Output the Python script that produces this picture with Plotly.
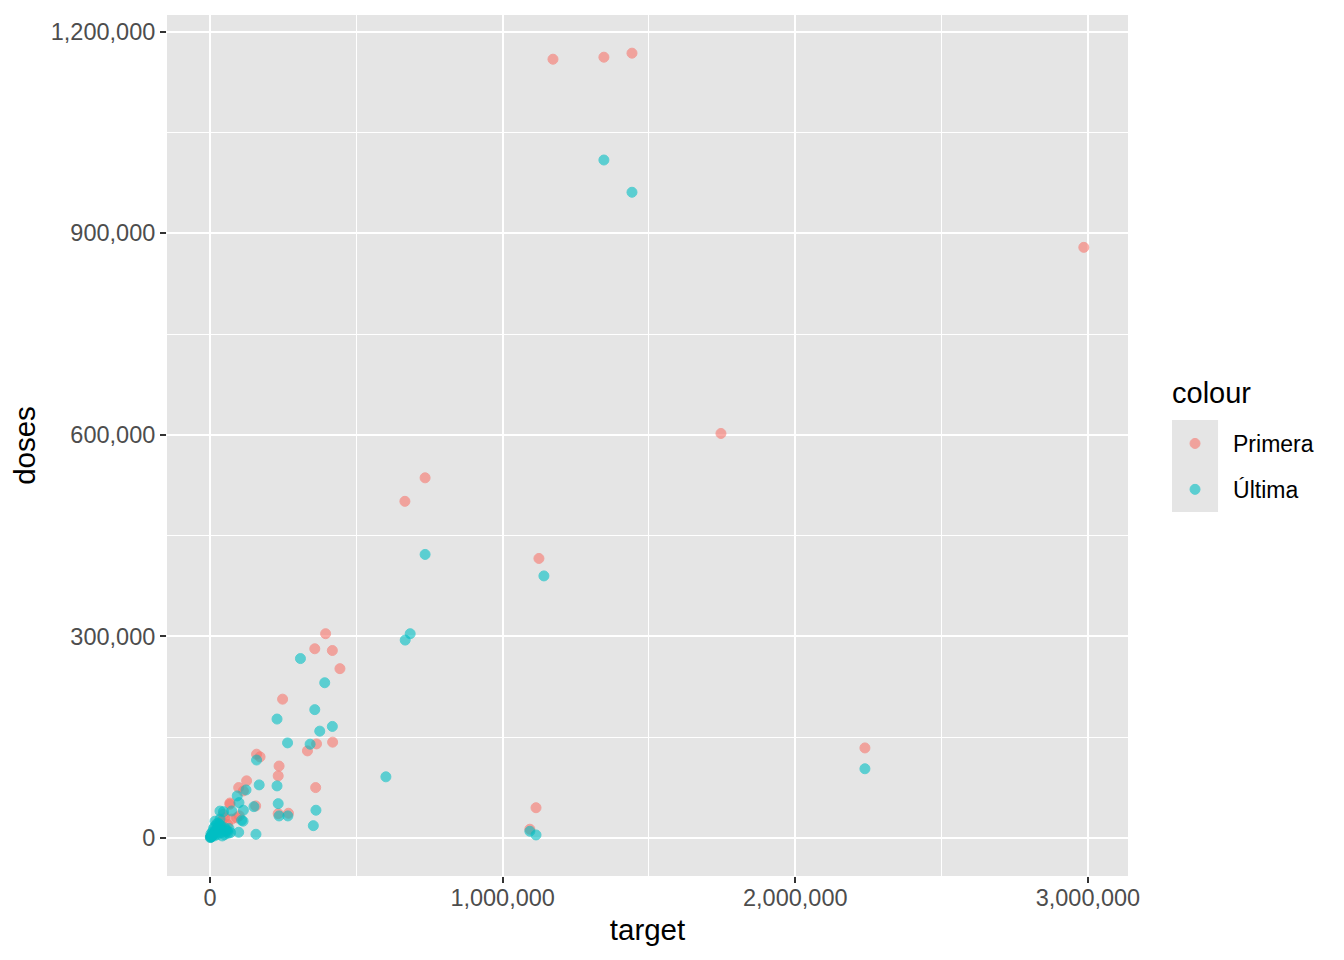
import plotly.graph_objects as go

# Primera dose points
primera_target = [1172000, 1346000, 1442000, 2986000, 1746000, 735000, 666000, 1124000,
                  2238000, 1114000, 1093000, 395000, 358000, 418000, 444000, 248000,
                  364000, 419000, 333000, 159000, 171000, 236000, 233000, 125000,
                  361000, 98000, 114000, 68000, 156000, 233000, 268000, 91000,
                  68000, 74000, 100000, 40000, 30000, 20000, 10000, 5000, 2000,
                  50000, 60000, 45000, 55000]
primera_doses = [1159000, 1162000, 1168000, 879000, 602000, 536000, 501000, 416000,
                 134000, 45000, 13000, 304000, 281600, 279000, 252000, 206600,
                 140000, 142600, 129600, 124700, 120700, 107000, 92400, 85000,
                 75000, 75000, 70000, 50200, 47700, 36200, 36800, 30000,
                 52000, 28000, 33000, 25000, 18000, 12000, 6000, 3000, 1500,
                 30000, 20000, 35000, 10000]

# Ultima dose points
ultima_target = [1346000, 1442000, 735000, 1141000, 2238000, 601000, 1093000, 1114000,
                 684000, 667000, 309000, 392000, 358000, 229000, 418000, 375000,
                 265000, 342000, 159000, 168000, 229000, 123000, 93000, 99000,
                 233000, 150000, 114000, 362000, 46000, 74000, 236000, 266000,
                 108000, 353000, 98000, 157000, 113000, 34000, 23000, 62000,
                 34000, 17000, 51000,
                 1000, 2000, 3000, 4000, 5000, 6000, 8000, 10000, 12000, 15000,
                 18000, 20000, 22000, 25000, 28000, 30000, 35000, 38000, 40000,
                 45000, 50000, 55000, 3000, 8000, 12000, 16000, 28000, 32000,
                 25000, 15000, 60000, 65000, 70000, 42000]
ultima_doses = [1009000, 961000, 422000, 390000, 103000, 91000, 10000, 4500,
                304000, 294500, 267000, 231000, 191000, 177000, 166000, 159000,
                141500, 139600, 116000, 79000, 77500, 71500, 62600, 52600,
                51100, 46600, 41300, 41300, 39200, 40200, 32800, 32800,
                26400, 18300, 8500, 5500, 25000, 28000, 21000, 7000,
                40000, 25000, 15000,
                500, 1200, 1500, 2500, 3000, 2000, 4000, 5000, 6000, 8000,
                9000, 11000, 7000, 13000, 10000, 16000, 12000, 18000, 8000,
                10000, 5000, 12000, 6000, 9000, 14000, 17000, 22000, 20000,
                5000, 3000, 10000, 14000, 8000, 3000]

fig = go.Figure()
fig.add_trace(go.Scatter(x=primera_target, y=primera_doses, mode='markers', name='Primera',
                         legendgroup='a',
                         marker=dict(color='#F8766D', size=10, opacity=0.6,
                                     line=dict(width=1, color='#F8766D'))))
fig.add_trace(go.Scatter(x=ultima_target, y=ultima_doses, mode='markers', name='Última',
                         legendgroup='b',
                         marker=dict(color='#00BFC4', size=10, opacity=0.6,
                                     line=dict(width=1, color='#00BFC4'))))

axis_style = dict(showgrid=True, gridcolor='white', gridwidth=2, zeroline=False,
                  ticks='outside', ticklen=6, tickcolor='#333333', tickwidth=2,
                  tickfont=dict(size=23.5, color='#4D4D4D'), showline=False,
                  tickformat=',')
fig.update_xaxes(**axis_style, range=[-147000, 3137000], tickvals=[0, 1000000, 2000000, 3000000],
                 minor=dict(tickvals=[500000, 1500000, 2500000], showgrid=True,
                            gridcolor='white', gridwidth=1, ticks=''),
                 ticklabelstandoff=-5,
                 title=dict(text='target', font=dict(size=29.5, color='black'), standoff=9))
fig.update_yaxes(**axis_style, range=[-56600, 1224800],
                 tickvals=[0, 300000, 600000, 900000, 1200000],
                 minor=dict(tickvals=[150000, 450000, 750000, 1050000], showgrid=True,
                            gridcolor='white', gridwidth=1, ticks=''),
                 title=dict(text='doses', font=dict(size=29.5, color='black'), standoff=8))

# grey background behind legend keys
fig.add_shape(type='rect', xref='paper', yref='paper',
              x0=1.0458, x1=1.0937, y0=0.4228, y1=0.5296,
              fillcolor='#E5E5E5', line=dict(width=0), layer='below')

# legend title
fig.add_annotation(text='colour', xref='paper', yref='paper', x=1.0437, y=0.561,
                   xanchor='left', yanchor='middle', showarrow=False,
                   font=dict(size=29, color='black'))

fig.update_layout(
    width=1336, height=952,
    margin=dict(l=159, r=216, t=7, b=84),
    plot_bgcolor='#E5E5E5', paper_bgcolor='white',
    font=dict(family='Liberation Sans, Arial, sans-serif'),
    legend=dict(font=dict(size=23, color='black'), x=1.0302, xanchor='left',
                y=0.5273, yanchor='top', tracegroupgap=13, itemwidth=66,
                bgcolor='rgba(0,0,0,0)'),
)

fig.write_html("out.html")
